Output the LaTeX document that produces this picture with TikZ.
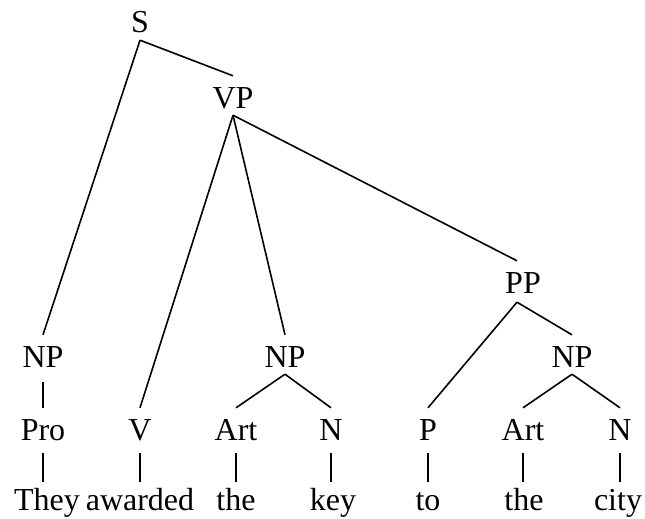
\documentclass[tikz,border=0pt]{standalone}
\usepackage{fontspec}
\setmainfont{Liberation Serif}
\begin{document}
\begin{tikzpicture}[x=1pt,y=-1pt,
  lbl/.style={font=\fontsize{32}{36}\selectfont, inner sep=0pt, text height=32pt, text depth=7pt, anchor=base},
  edge/.style={line width=1.6pt},
  bar/.style={line width=1.6pt, shorten <=8pt}]
\useasboundingbox (0,0) rectangle (645,519);
% phrase nodes
\node[lbl] (S) at (140,33) {S};
\node[lbl] (VP) at (233,108) {VP};
\node[lbl] (PP) at (523,293) {PP};
\node[lbl] (NPa) at (43,367) {NP};
\node[lbl] (NPb) at (285,367) {NP};
\node[lbl] (NPc) at (572,367) {NP};
% preterminals
\node[lbl] (Pro) at (43,440) {Pro};
\node[lbl] (V) at (140,440) {V};
\node[lbl] (Arta) at (236,440) {Art};
\node[lbl] (Na) at (331,440) {N};
\node[lbl] (P) at (428,440) {P};
\node[lbl] (Artb) at (523,440) {Art};
\node[lbl] (Nb) at (620,440) {N};
% words
\node[lbl] (w1) at (47,510) {They};
\node[lbl] (w2) at (140,510) {awarded};
\node[lbl] (w3) at (236,510) {the};
\node[lbl] (w4) at (333,510) {key};
\node[lbl] (w5) at (428,510) {to};
\node[lbl] (w6) at (524,510) {the};
\node[lbl] (w7) at (618,510) {city};
% branches
\draw[edge] (S.south) -- (VP.north);
\draw[edge] (S.south) -- (NPa.north);
\draw[edge] (VP.south) -- (V.north);
\draw[edge] (VP.south) -- (NPb.north);
\draw[edge] (VP.south) -- ([xshift=-6pt]PP.north);
\draw[edge] ([xshift=-6pt,yshift=-2pt]PP.south) -- (P.north);
\draw[edge] ([xshift=-6pt,yshift=-2pt]PP.south) -- (NPc.north);
\draw[edge] (NPb.south) -- (Arta.north);
\draw[edge] (NPb.south) -- (Na.north);
\draw[edge] (NPc.south) -- (Artb.north);
\draw[edge] (NPc.south) -- (Nb.north);
% unary bars
\draw[bar] (NPa.south) -- (Pro.north);
\draw[bar, shorten <=6pt, shorten >=-4pt] (Pro.south) -- (Pro.south |- w1.north);
\draw[bar, shorten <=6pt, shorten >=-4pt] (V.south) -- (V.south |- w2.north);
\draw[bar, shorten <=6pt, shorten >=-4pt] (Arta.south) -- (Arta.south |- w3.north);
\draw[bar, shorten <=6pt, shorten >=-4pt] (Na.south) -- (Na.south |- w4.north);
\draw[bar, shorten <=6pt, shorten >=-4pt] (P.south) -- (P.south |- w5.north);
\draw[bar, shorten <=6pt, shorten >=-4pt] (Artb.south) -- (Artb.south |- w6.north);
\draw[bar, shorten <=6pt, shorten >=-4pt] (Nb.south) -- (Nb.south |- w7.north);
\end{tikzpicture}
\end{document}
